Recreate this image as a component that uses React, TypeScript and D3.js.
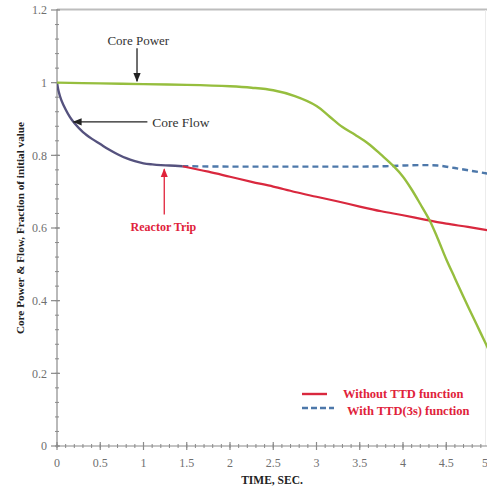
import React from 'react';
import * as d3 from 'd3';

// core power (green)
const powerTime = [0, 0.5, 1, 1.5, 2, 2.25, 2.5, 2.75, 3.0, 3.15, 3.3, 3.45, 3.6, 3.75, 3.9, 4.0, 4.1, 4.2, 4.31, 4.4, 4.5, 4.6, 4.7, 4.8, 4.9, 5.0];
const powerValues = [1.0, 0.998, 0.996, 0.994, 0.99, 0.986, 0.979, 0.963, 0.936, 0.907, 0.878, 0.856, 0.832, 0.801, 0.768, 0.741, 0.706, 0.666, 0.62, 0.572, 0.514, 0.462, 0.41, 0.36, 0.31, 0.26];

// core flow, common part before the trip
const flowTime = [0, 0.02, 0.05, 0.1, 0.15, 0.2, 0.3, 0.4, 0.5, 0.6, 0.7, 0.8, 0.9, 1.0, 1.1, 1.2, 1.3, 1.45];
const flowValues = [1.0, 0.975, 0.952, 0.926, 0.905, 0.889, 0.864, 0.846, 0.831, 0.816, 0.803, 0.792, 0.784, 0.778, 0.775, 0.773, 0.772, 0.77];

// without TTD function
const noTtdTime = [1.45, 1.75, 2.0, 2.25, 2.5, 2.75, 3.0, 3.25, 3.5, 3.75, 4.0, 4.25, 4.5, 4.75, 5.0];
const noTtdValues = [0.77, 0.755, 0.741, 0.727, 0.714, 0.699, 0.686, 0.673, 0.659, 0.646, 0.635, 0.623, 0.612, 0.603, 0.593];

// with TTD(3s) function
const ttdTime = [1.45, 2.0, 2.5, 3.0, 3.5, 3.8, 4.0, 4.2, 4.4, 4.6, 4.8, 5.0];
const ttdValues = [0.77, 0.769, 0.769, 0.769, 0.769, 0.77, 0.772, 0.773, 0.772, 0.765, 0.757, 0.749];

const xTicks = [0, 0.5, 1, 1.5, 2, 2.5, 3, 3.5, 4, 4.5, 5];
const yTicks = [0, 0.2, 0.4, 0.6, 0.8, 1, 1.2];

const W = 487, H = 488;
const serif = '"Liberation Serif", "DejaVu Serif", serif';

const x = d3.scaleLinear().domain([0, 5]).range([57, 489.5]);
const y = d3.scaleLinear().domain([0, 1.2]).range([446, 10]);

const line = d3.line<[number, number]>()
  .x(d => x(d[0]))
  .y(d => y(d[1]))
  .curve(d3.curveCatmullRom.alpha(0.5));

const zip = (t: number[], v: number[]) => t.map((tt, i) => [tt, v[i]] as [number, number]);

export default function App() {
  const xMinor = d3.range(0, 50).map(i => i / 10);
  const yMinor = d3.range(0, 30).map(i => i * 0.04);
  return (
    <svg width={W} height={H} style={{ position: 'absolute', left: 0, top: 0, background: '#fff' }}>
      <defs>
        <marker id="ah" viewBox="0 0 10 10" refX="9" refY="5" markerWidth="7" markerHeight="7" orient="auto">
          <path d="M0,1 L10,5 L0,9 z" fill="#222" />
        </marker>
        <marker id="ahr" viewBox="0 0 10 10" refX="9" refY="5" markerWidth="7" markerHeight="7" orient="auto">
          <path d="M0,1 L10,5 L0,9 z" fill="#e0223a" />
        </marker>
        <clipPath id="plot"><rect x={57} y={0} width={W - 57} height={447} /></clipPath>
      </defs>

      {/* frame */}
      <line x1={57} x2={487} y1={9.5} y2={9.5} stroke="#bdbdbd" strokeWidth={2} />
      <line x1={485.5} x2={485.5} y1={10} y2={446} stroke="#ececec" strokeWidth={1} />

      {/* y axis */}
      <line x1={57} x2={57} y1={9} y2={446} stroke="#8a8a8a" strokeWidth={1.2} />
      {yMinor.map((v, i) => (
        <line key={'ym' + i} x1={55} x2={59} y1={y(v)} y2={y(v)} stroke="#8a8a8a" strokeWidth={1} />
      ))}
      {yTicks.map(v => (
        <g key={'y' + v}>
          <line x1={51} x2={60} y1={y(v)} y2={y(v)} stroke="#8a8a8a" strokeWidth={1.2} />
          <text x={47} y={y(v)} dy="0.35em" textAnchor="end" fontFamily={serif} fontSize={12} fill="#6f6f6f">{v}</text>
        </g>
      ))}

      {/* x axis */}
      <line x1={57} x2={487} y1={446} y2={446} stroke="#8a8a8a" strokeWidth={1.2} />
      {xMinor.map((v, i) => (
        <line key={'xm' + i} x1={x(v)} x2={x(v)} y1={444} y2={448} stroke="#8a8a8a" strokeWidth={1} />
      ))}
      {xTicks.map(v => (
        <g key={'x' + v}>
          <line x1={x(v)} x2={x(v)} y1={442} y2={450} stroke="#8a8a8a" strokeWidth={1.2} />
          <text x={Math.min(x(v), 485)} y={467} textAnchor="middle" fontFamily={serif} fontSize={12} fill="#6f6f6f">{v}</text>
        </g>
      ))}

      <text x={272} y={484} textAnchor="middle" fontFamily={serif} fontSize={11.5} fontWeight="bold" fill="#222">TIME, SEC.</text>
      <text transform="translate(24,228) rotate(-90)" textAnchor="middle" fontFamily={serif} fontSize={11.2} fontWeight="bold" fill="#222">
        Core Power &amp; Flow, Fraction of initial value
      </text>

      {/* series */}
      <g clipPath="url(#plot)" fill="none" strokeLinejoin="round">
        <path d={line(zip(ttdTime, ttdValues)) || ''} stroke="#4d78aa" strokeWidth={2.4} strokeDasharray="6,4" />
        <path d={line(zip(noTtdTime, noTtdValues)) || ''} stroke="#d9283e" strokeWidth={2.2} />
        <path d={line(zip(flowTime, flowValues)) || ''} stroke="#55527e" strokeWidth={2.4} />
        <path d={line(zip(powerTime, powerValues)) || ''} stroke="#96be3e" strokeWidth={2.4} />
      </g>

      {/* annotations */}
      <text x={x(0.94)} y={y(1.117)} dy="0.35em" textAnchor="middle" fontFamily={serif} fontSize={13} fill="#333">Core Power</text>
      <line x1={x(0.925)} x2={x(0.925)} y1={y(1.095)} y2={y(1.004)} stroke="#222" strokeWidth={1.3} markerEnd="url(#ah)" />

      <text x={x(1.1)} y={y(0.892)} dy="0.35em" fontFamily={serif} fontSize={13.5} fill="#333">Core Flow</text>
      <line x1={x(1.045)} x2={x(0.19)} y1={y(0.892)} y2={y(0.892)} stroke="#222" strokeWidth={1.3} markerEnd="url(#ah)" />

      <line x1={x(1.24)} x2={x(1.24)} y1={y(0.637)} y2={y(0.762)} stroke="#e0223a" strokeWidth={1.3} markerEnd="url(#ahr)" />
      <text x={x(1.23)} y={y(0.603)} dy="0.35em" textAnchor="middle" fontFamily={serif} fontSize={12} fontWeight="bold" fill="#e0223a">Reactor Trip</text>

      {/* legend */}
      <line x1={302} x2={327} y1={394} y2={394} stroke="#d9283e" strokeWidth={2.4} />
      <text x={343} y={394} dy="0.35em" fontFamily={serif} fontSize={12.5} fontWeight="bold" fill="#e0223a">Without TTD function</text>
      <line x1={302} x2={334} y1={408} y2={408} stroke="#4d78aa" strokeWidth={2.4} strokeDasharray="6,3" />
      <text x={347} y={411} dy="0.35em" fontFamily={serif} fontSize={12.5} fontWeight="bold" fill="#e0223a">With TTD(3s) function</text>
    </svg>
  );
}
